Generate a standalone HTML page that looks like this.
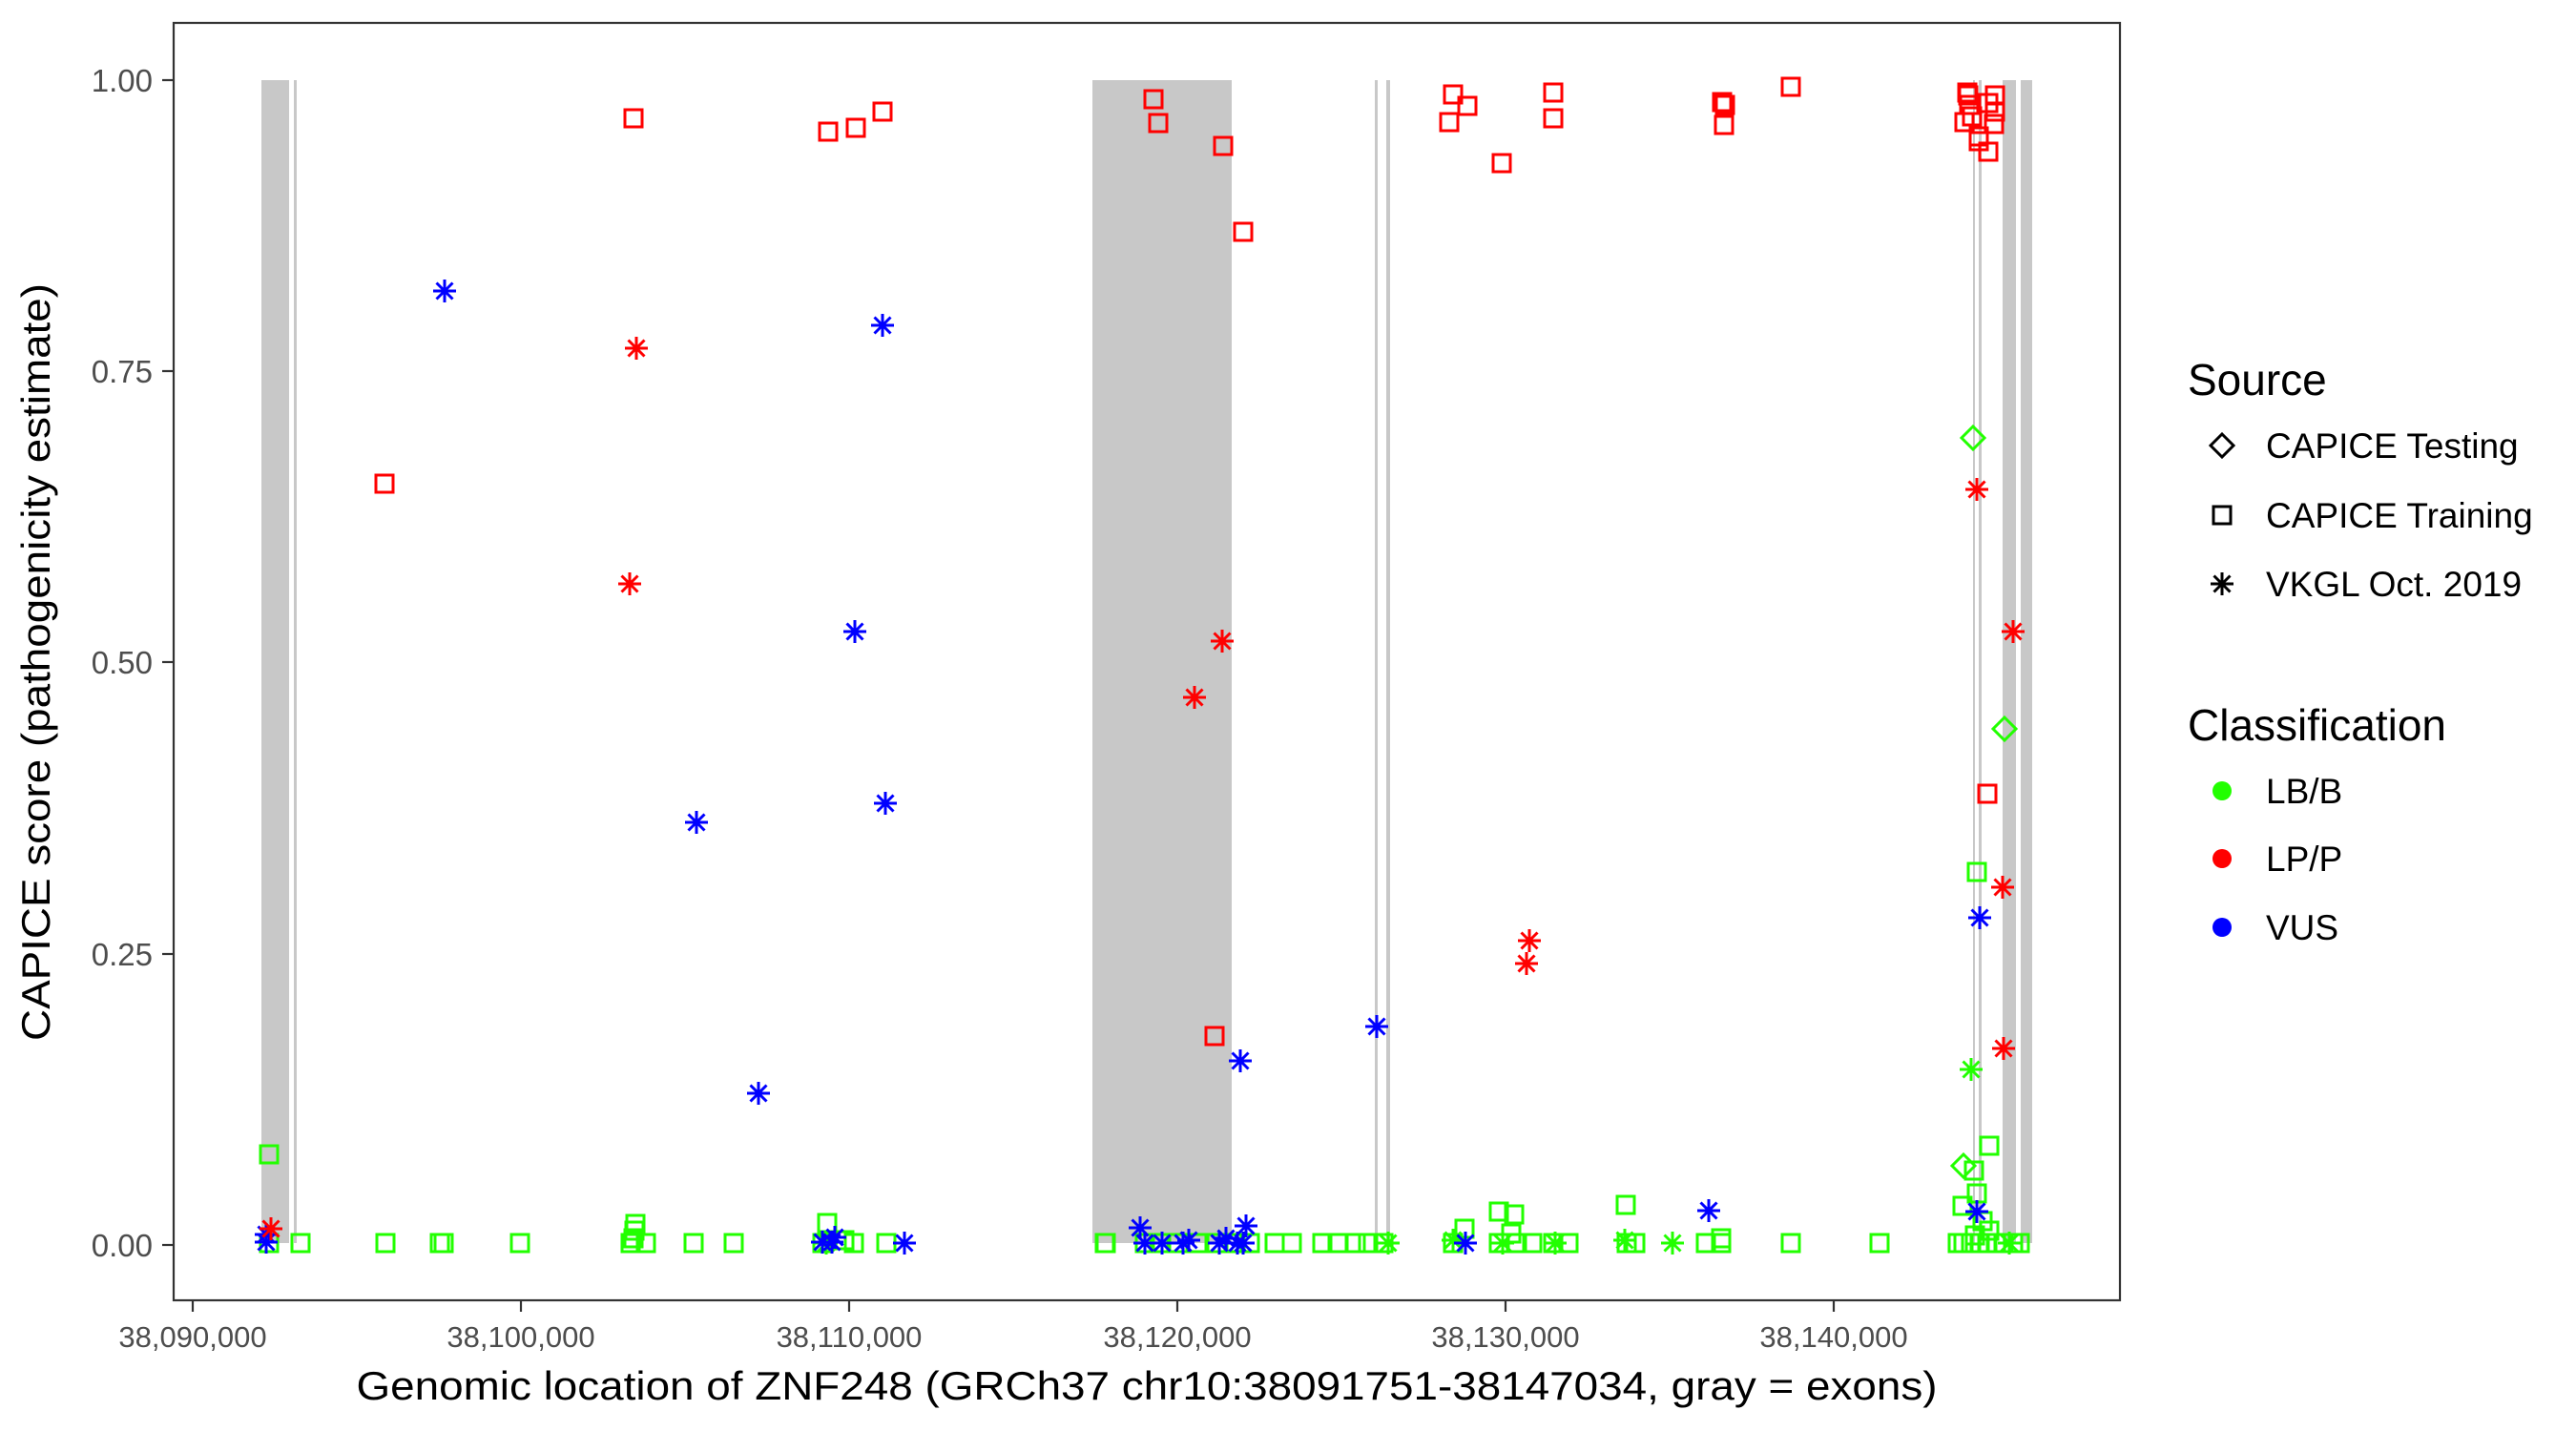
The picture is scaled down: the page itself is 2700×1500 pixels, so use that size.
<!DOCTYPE html>
<html><head><meta charset="utf-8"><style>html,body{margin:0;padding:0;background:#fff}svg{display:block}</style></head>
<body>
<svg width="2700" height="1500" viewBox="0 0 2700 1500" xmlns="http://www.w3.org/2000/svg" font-family="Liberation Sans, Arial, sans-serif">
<defs>
<symbol id="sq" overflow="visible"><rect x="-9" y="-9" width="18" height="18" fill="none" stroke-width="3"/></symbol>
<symbol id="st" overflow="visible"><g stroke-width="3"><line x1="0" y1="-12" x2="0" y2="12"/><line x1="-12" y1="0" x2="12" y2="0"/><line x1="-8.5" y1="-8.5" x2="8.5" y2="8.5"/><line x1="-8.5" y1="8.5" x2="8.5" y2="-8.5"/></g></symbol>
<symbol id="di" overflow="visible"><polygon points="0,-12 12,0 0,12 -12,0" fill="none" stroke-width="3"/></symbol>
</defs>
<rect width="2700" height="1500" fill="#fff"/>
<g fill="#c8c8c8">
<rect x="274" y="84" width="29" height="1219"/>
<rect x="308" y="84" width="3" height="1219"/>
<rect x="1145" y="84" width="146" height="1219"/>
<rect x="1441" y="84" width="3" height="1219"/>
<rect x="1453" y="84" width="4" height="1219"/>
<rect x="2068" y="84" width="2" height="1219"/>
<rect x="2074" y="84" width="3" height="1219"/>
<rect x="2099" y="84" width="14" height="1219"/>
<rect x="2118" y="84" width="12" height="1219"/>
</g>
<g stroke="#22ff00" fill="none">
<use href="#sq" x="282" y="1303"/><use href="#sq" x="315" y="1303"/><use href="#sq" x="404" y="1303"/><use href="#sq" x="461" y="1303"/><use href="#sq" x="465" y="1303"/><use href="#sq" x="545" y="1303"/>
<use href="#sq" x="661" y="1303"/><use href="#sq" x="664" y="1298"/><use href="#sq" x="665" y="1290"/><use href="#sq" x="666" y="1283"/><use href="#sq" x="677" y="1303"/>
<use href="#sq" x="727" y="1303"/><use href="#sq" x="769" y="1303"/><use href="#sq" x="862" y="1303"/><use href="#sq" x="867" y="1282"/><use href="#sq" x="885" y="1300"/><use href="#sq" x="895" y="1303"/><use href="#sq" x="929" y="1303"/><use href="#sq" x="1159" y="1303"/>
<use href="#sq" x="282" y="1210"/>
<use href="#sq" x="1158" y="1303"/><use href="#sq" x="1200" y="1303"/><use href="#sq" x="1215" y="1303"/><use href="#sq" x="1235" y="1303"/><use href="#sq" x="1255" y="1303"/><use href="#sq" x="1275" y="1303"/><use href="#sq" x="1295" y="1303"/><use href="#sq" x="1310" y="1303"/>
<use href="#sq" x="1336" y="1303"/><use href="#sq" x="1354" y="1303"/><use href="#sq" x="1386" y="1303"/><use href="#sq" x="1402" y="1303"/><use href="#sq" x="1421" y="1303"/><use href="#sq" x="1434" y="1303"/><use href="#sq" x="1450" y="1303"/>
<use href="#sq" x="1523" y="1303"/><use href="#sq" x="1535" y="1288"/><use href="#sq" x="1571" y="1303"/><use href="#sq" x="1584" y="1293"/><use href="#sq" x="1590" y="1303"/><use href="#sq" x="1606" y="1303"/><use href="#sq" x="1571" y="1270"/><use href="#sq" x="1587" y="1273"/>
<use href="#sq" x="1628" y="1303"/><use href="#sq" x="1644" y="1303"/><use href="#sq" x="1704" y="1263"/><use href="#sq" x="1705" y="1303"/><use href="#sq" x="1714" y="1303"/>
<use href="#sq" x="1788" y="1303"/><use href="#sq" x="1804" y="1298"/><use href="#sq" x="1804" y="1303"/><use href="#sq" x="1877" y="1303"/><use href="#sq" x="1970" y="1303"/>
<use href="#sq" x="2052" y="1303"/><use href="#sq" x="2058" y="1303"/><use href="#sq" x="2066" y="1303"/><use href="#sq" x="2075" y="1303"/><use href="#sq" x="2083" y="1303"/><use href="#sq" x="2092" y="1303"/><use href="#sq" x="2100" y="1303"/><use href="#sq" x="2110" y="1303"/><use href="#sq" x="2117" y="1303"/>
<use href="#sq" x="2057" y="1264"/><use href="#sq" x="2069" y="1227"/><use href="#sq" x="2072" y="1251"/><use href="#sq" x="2078" y="1280"/><use href="#sq" x="2085" y="1290"/><use href="#sq" x="2085" y="1201"/><use href="#sq" x="2072" y="914"/><use href="#sq" x="2070" y="1295"/>
</g>
<g stroke="#22ff00">
<use href="#st" x="866" y="1303"/><use href="#st" x="1455" y="1303"/><use href="#st" x="1523" y="1300"/><use href="#st" x="1575" y="1303"/><use href="#st" x="1630" y="1303"/><use href="#st" x="1703" y="1300"/><use href="#st" x="1753" y="1303"/><use href="#st" x="2066" y="1121"/><use href="#st" x="2106" y="1303"/>
<use href="#di" x="2068" y="459"/><use href="#di" x="2101" y="764"/><use href="#di" x="2058" y="1222"/>
</g>
<g stroke="#ff0000" fill="none">
<use href="#sq" x="664" y="124"/><use href="#sq" x="403" y="507"/><use href="#sq" x="868" y="138"/><use href="#sq" x="897" y="134"/><use href="#sq" x="925" y="117"/>
<use href="#sq" x="1209" y="104"/><use href="#sq" x="1214" y="129"/><use href="#sq" x="1282" y="153"/><use href="#sq" x="1303" y="243"/><use href="#sq" x="1273" y="1086"/>
<use href="#sq" x="1523" y="99"/><use href="#sq" x="1538" y="111"/><use href="#sq" x="1519" y="128"/><use href="#sq" x="1574" y="171"/>
<use href="#sq" x="1628" y="97"/><use href="#sq" x="1628" y="124"/><use href="#sq" x="1805" y="107"/><use href="#sq" x="1808" y="110"/><use href="#sq" x="1807" y="131"/><use href="#sq" x="1877" y="91"/>
<use href="#sq" x="2062" y="97"/><use href="#sq" x="2063" y="100"/><use href="#sq" x="2091" y="100"/><use href="#sq" x="2064" y="110"/><use href="#sq" x="2084" y="108"/><use href="#sq" x="2091" y="117"/><use href="#sq" x="2059" y="128"/><use href="#sq" x="2090" y="130"/><use href="#sq" x="2067" y="122"/><use href="#sq" x="2074" y="143"/><use href="#sq" x="2074" y="148"/><use href="#sq" x="2084" y="159"/>
<use href="#sq" x="2083" y="832"/>
</g>
<g stroke="#0000ff">
<use href="#st" x="466" y="305"/><use href="#st" x="925" y="341"/><use href="#st" x="896" y="662"/><use href="#st" x="730" y="862"/><use href="#st" x="928" y="842"/><use href="#st" x="795" y="1146"/>
<use href="#st" x="1443" y="1076"/><use href="#st" x="1300" y="1112"/><use href="#st" x="1791" y="1269"/><use href="#st" x="2075" y="962"/><use href="#st" x="2072" y="1270"/>
<use href="#st" x="279" y="1302"/><use href="#st" x="279" y="1294"/><use href="#st" x="875" y="1297"/><use href="#st" x="872" y="1302"/><use href="#st" x="948" y="1303"/><use href="#st" x="862" y="1302"/>
<use href="#st" x="1195" y="1287"/><use href="#st" x="1200" y="1303"/><use href="#st" x="1218" y="1303"/><use href="#st" x="1240" y="1303"/><use href="#st" x="1246" y="1300"/><use href="#st" x="1278" y="1303"/><use href="#st" x="1285" y="1298"/><use href="#st" x="1297" y="1303"/><use href="#st" x="1306" y="1285"/><use href="#st" x="1303" y="1303"/><use href="#st" x="1536" y="1303"/>
</g>
<g stroke="#ff0000">
<use href="#st" x="667" y="365"/><use href="#st" x="660" y="612"/><use href="#st" x="1252" y="731"/><use href="#st" x="1281" y="672"/><use href="#st" x="1603" y="986"/><use href="#st" x="1600" y="1010"/><use href="#st" x="284" y="1288"/>
<use href="#st" x="2072" y="513"/><use href="#st" x="2110" y="662"/><use href="#st" x="2099" y="930"/><use href="#st" x="2100" y="1099"/>
</g>
<rect x="182" y="24" width="2040" height="1339" fill="none" stroke="#333" stroke-width="2.2"/>
<g stroke="#333" stroke-width="2.2">
<line x1="170" y1="84" x2="182" y2="84"/><line x1="170" y1="389" x2="182" y2="389"/><line x1="170" y1="694" x2="182" y2="694"/><line x1="170" y1="1000" x2="182" y2="1000"/><line x1="170" y1="1305" x2="182" y2="1305"/>
<line x1="202" y1="1363" x2="202" y2="1375"/><line x1="546" y1="1363" x2="546" y2="1375"/><line x1="890" y1="1363" x2="890" y2="1375"/><line x1="1234" y1="1363" x2="1234" y2="1375"/><line x1="1578" y1="1363" x2="1578" y2="1375"/><line x1="1922" y1="1363" x2="1922" y2="1375"/>
</g>
<g fill="#4d4d4d" font-size="33" text-anchor="end">
<text x="160" y="96">1.00</text><text x="160" y="401">0.75</text><text x="160" y="706">0.50</text><text x="160" y="1012">0.25</text><text x="160" y="1317">0.00</text>
</g>
<g fill="#4d4d4d" font-size="31" text-anchor="middle">
<text x="202" y="1412">38,090,000</text><text x="546" y="1412">38,100,000</text><text x="890" y="1412">38,110,000</text><text x="1234" y="1412">38,120,000</text><text x="1578" y="1412">38,130,000</text><text x="1922" y="1412">38,140,000</text>
</g>
<text x="1202" y="1467" font-size="42" text-anchor="middle" textLength="1657" lengthAdjust="spacingAndGlyphs">Genomic location of ZNF248 (GRCh37 chr10:38091751-38147034, gray = exons)</text>
<text transform="translate(52,694) rotate(-90)" font-size="42" text-anchor="middle" textLength="794" lengthAdjust="spacingAndGlyphs">CAPICE score (pathogenicity estimate)</text>
<text x="2293" y="414" font-size="46">Source</text>
<g stroke="#000"><use href="#di" x="2329" y="467"/><use href="#sq" x="2329" y="540"/><use href="#st" x="2329" y="612"/></g>
<g font-size="37"><text x="2375" y="480">CAPICE Testing</text><text x="2375" y="553">CAPICE Training</text><text x="2375" y="625">VKGL Oct. 2019</text></g>
<text x="2293" y="776" font-size="46">Classification</text>
<circle cx="2329" cy="829" r="10" fill="#22ff00"/><circle cx="2329" cy="900" r="10" fill="#ff0000"/><circle cx="2329" cy="972" r="10" fill="#0000ff"/>
<g font-size="37"><text x="2375" y="842">LB/B</text><text x="2375" y="913">LP/P</text><text x="2375" y="985">VUS</text></g>
</svg>
</body></html>
